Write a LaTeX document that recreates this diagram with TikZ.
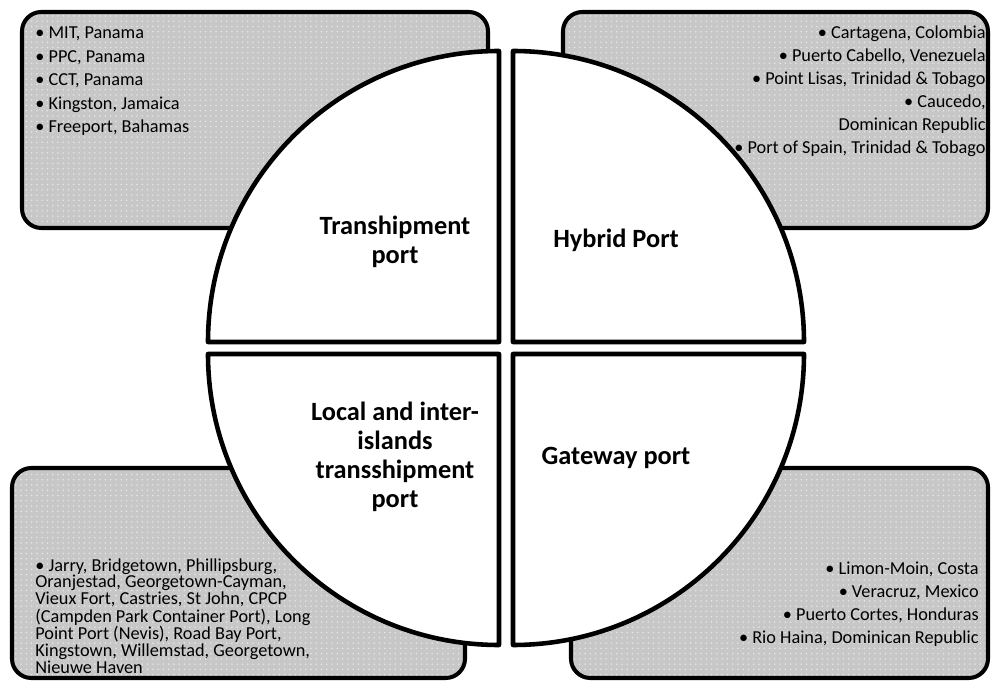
\documentclass[tikz,border=0pt]{standalone}
\usepackage{fontspec}
\setmainfont{Carlito}
\usetikzlibrary{patterns}

\begin{document}
\begin{tikzpicture}[x=0.02cm, y=0.02cm,
    portbox/.style={draw, line width=2.3pt, rounded corners=11pt,
      preaction={fill=black!22}, pattern=dots, pattern color=white!90!black},
    quarter/.style={draw, fill=white, line width=2.6pt, line join=round},
    item/.style={inner sep=0pt, font=\fontsize{10.4}{12}\selectfont},
    porttype/.style={align=center, inner sep=0pt, font=\fontsize{15}{16.4}\selectfont\bfseries}]

    \useasboundingbox (0,0) rectangle (991,680);

    % grey boxes behind the circle
    \path[portbox] (22,668) rectangle (488,452);
    \path[portbox] (563,668) rectangle (988,452);
    \path[portbox] (12,212) rectangle (465,2);
    \path[portbox] (571,212) rectangle (988,2);

    % port lists
    \foreach \txt [count=\i from 0] in {{MIT, Panama}, {PPC, Panama}, {CCT, Panama},
        {Kingston, Jamaica}, {Freeport, Bahamas}}
        \node[item, anchor=base west] (tl\i) at (35, 641-23.5*\i) {\textbullet\ \txt};

    \foreach \txt [count=\i from 0] in {{\textbullet\ Cartagena, Colombia},
        {\textbullet\ Puerto Cabello, Venezuela}, {\textbullet\ Point Lisas, Trinidad \& Tobago},
        {\textbullet\ Caucedo,}, {Dominican Republic},
        {\textbullet\ Port of Spain, Trinidad \& Tobago}}
        \node[item, anchor=base east] (tr\i) at (986, 641-23*\i) {\txt};

    \foreach \txt [count=\i from 0] in {{\textbullet\ Jarry, Bridgetown, Phillipsburg,},
        {Oranjestad, Georgetown-Cayman,}, {Vieux Fort, Castries, St John, CPCP},
        {(Campden Park Container Port), Long}, {Point Port (Nevis), Road Bay Port,},
        {Kingstown, Willemstad, Georgetown,}, {Nieuwe Haven}}
        \node[item, anchor=base west] (bl\i) at (35, 109-17*\i) {\txt};

    \foreach \txt [count=\i from 0] in {{Limon-Moin, Costa}, {Veracruz, Mexico},
        {Puerto Cortes, Honduras}, {Rio Haina, Dominican Republic}}
        \node[item, anchor=base east] (br\i) at (979, 106-23.3*\i) {\textbullet\ \txt};

    % the four quarters of the circle
    \path[quarter] (499,338) -- ++(-291,0) arc[start angle=180, end angle=90, radius=291] -- cycle;
    \path[quarter] (513,338) -- ++(0,291) arc[start angle=90, end angle=0, radius=291] -- cycle;
    \path[quarter] (499,326) -- ++(-291,0) arc[start angle=180, end angle=270, radius=291] -- cycle;
    \path[quarter] (513,326) -- ++(291,0) arc[start angle=0, end angle=-90, radius=291] -- cycle;

    % port types
    \node[porttype] (tship) at (395,438) {Transhipment\\port};
    \node[porttype] (hybrid) at (616,440) {Hybrid Port};
    \node[porttype] (local) at (395,223) {Local and inter-\\islands\\transshipment\\port};
    \node[porttype] (gateway) at (616,222) {Gateway port};

\end{tikzpicture}
\end{document}
